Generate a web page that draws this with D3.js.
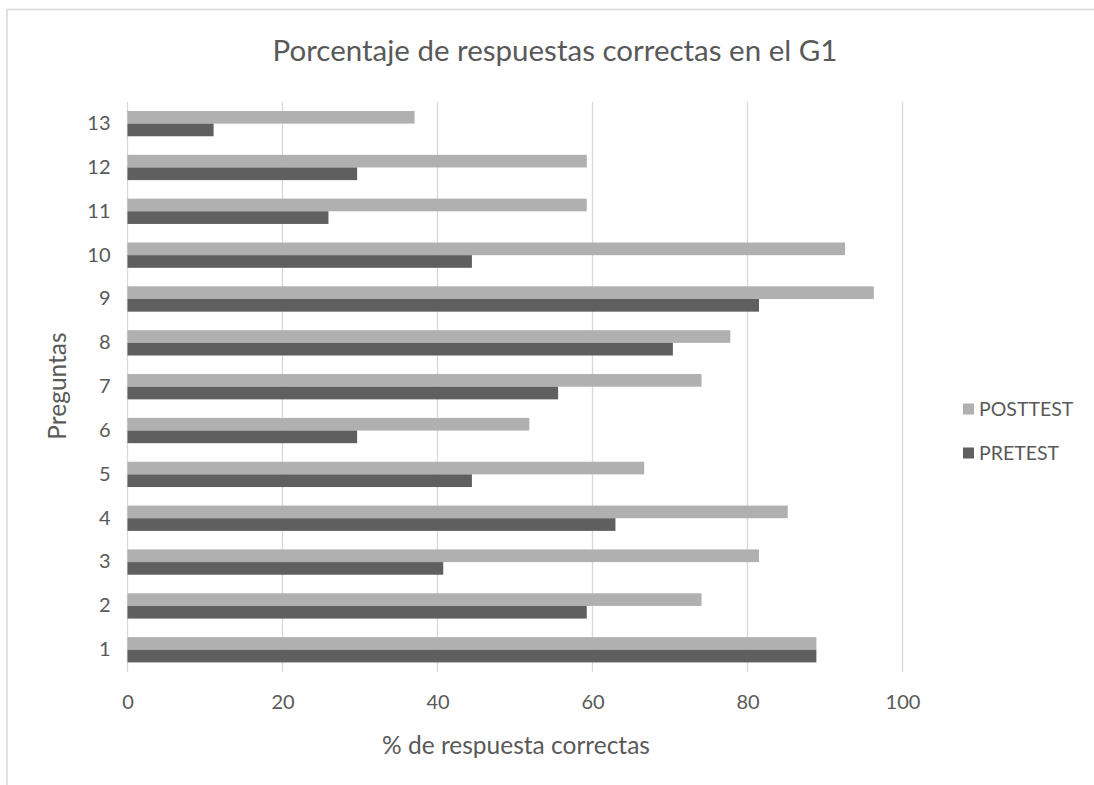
<!DOCTYPE html>
<html>
<head>
<meta charset="utf-8">
<script src="https://cdn.jsdelivr.net/npm/d3@7"></script>
<style>
  html, body { margin: 0; padding: 0; background: #fff; }
  svg { display: block; }
  text { font-family: Lato, "Open Sans", sans-serif; fill: #595959; }
</style>
</head>
<body>
<svg id="chart" width="1094" height="785"></svg>
<script>
// Question numbers (bottom to top) and % of correct answers per test
const preguntas = ["1","2","3","4","5","6","7","8","9","10","11","12","13"];
const posttest = [88.89, 74.07, 81.48, 85.19, 66.67, 51.85, 74.07, 77.78, 96.30, 92.59, 59.26, 59.26, 37.04];
const pretest  = [88.89, 59.26, 40.74, 62.96, 44.44, 29.63, 55.56, 70.37, 81.48, 44.44, 25.93, 29.63, 11.11];
const xTicks = [0, 20, 40, 60, 80, 100];
const seriesNames = ["POSTTEST", "PRETEST"];
const seriesColors = ["#b0b0b0", "#5f5f5f"];

const svg = d3.select("#chart");
const W = 1094, H = 785;

// outer frame
svg.append("path")
  .attr("d", `M7,${H} L7,9.5 L${W},9.5`)
  .attr("fill", "none")
  .attr("stroke", "#d9d9d9")
  .attr("stroke-width", 1.5);

const plot = { left: 127.5, right: 902.5, top: 101.7, bottom: 671.7 };

const x = d3.scaleLinear().domain([0, 100]).range([plot.left, plot.right]);
// categories run from 1 at the bottom to 13 at the top
const y = d3.scaleBand()
  .domain(preguntas)
  .range([plot.bottom, plot.top])
  .paddingInner(0.423)
  .paddingOuter(0.2115);
const sub = d3.scaleBand().domain(seriesNames).range([0, y.bandwidth()]);

// vertical gridlines
svg.append("g").selectAll("line")
  .data(xTicks)
  .join("line")
  .attr("x1", d => x(d)).attr("x2", d => x(d))
  .attr("y1", plot.top).attr("y2", plot.bottom)
  .attr("stroke", "#d9d9d9")
  .attr("stroke-width", 1.3);

// bars
const rows = preguntas.map((p, i) => ({ p, values: [posttest[i], pretest[i]] }));
const groups = svg.append("g").selectAll("g")
  .data(rows)
  .join("g")
  .attr("transform", d => `translate(0,${y(d.p)})`);

groups.selectAll("rect")
  .data(d => d.values.map((v, k) => ({ name: seriesNames[k], v, k })))
  .join("rect")
  .attr("x", x(0))
  .attr("y", d => sub(d.name))
  .attr("width", d => x(d.v) - x(0))
  .attr("height", sub.bandwidth())
  .attr("fill", d => seriesColors[d.k]);

// x axis labels
const xAxis = d3.axisBottom(x).tickValues(xTicks).tickSize(0).tickPadding(0);
const gx = svg.append("g")
  .attr("transform", `translate(0,${plot.bottom + 20})`)
  .call(xAxis);
gx.select(".domain").remove();
gx.selectAll("text")
  .attr("dy", "0.35em")
  .attr("y", 10)
  .style("font-size", "20px")
  .style("font-family", "Lato, 'Open Sans', sans-serif")
  .attr("fill", "#595959");

// y axis labels
const yAxis = d3.axisLeft(y).tickSize(0).tickPadding(0);
const gy = svg.append("g")
  .attr("transform", `translate(${plot.left - 17},0)`)
  .call(yAxis);
gy.select(".domain").remove();
gy.selectAll("text")
  .style("font-size", "20px")
  .style("font-family", "Lato, 'Open Sans', sans-serif")
  .attr("fill", "#595959");

// title
svg.append("text")
  .attr("x", 555).attr("y", 61)
  .attr("text-anchor", "middle")
  .style("font-size", "29.5px")
  .text("Porcentaje de respuestas correctas en el G1");

// axis titles
svg.append("text")
  .attr("x", 516).attr("y", 754)
  .attr("text-anchor", "middle")
  .style("font-size", "24.5px")
  .text("% de respuesta correctas");

svg.append("text")
  .attr("transform", "translate(66,386) rotate(-90)")
  .attr("text-anchor", "middle")
  .style("font-size", "24.5px")
  .text("Preguntas");

// legend
const legend = svg.append("g").selectAll("g")
  .data(seriesNames)
  .join("g")
  .attr("transform", (d, i) => `translate(963,${409 + i * 44})`);
legend.append("rect")
  .attr("x", 0).attr("y", -5.5)
  .attr("width", 11).attr("height", 11)
  .attr("fill", (d, i) => seriesColors[i]);
legend.append("text")
  .attr("x", 16).attr("y", 0)
  .attr("dy", "0.35em")
  .style("font-size", "19.5px")
  .text(d => d);
</script>
</body>
</html>
